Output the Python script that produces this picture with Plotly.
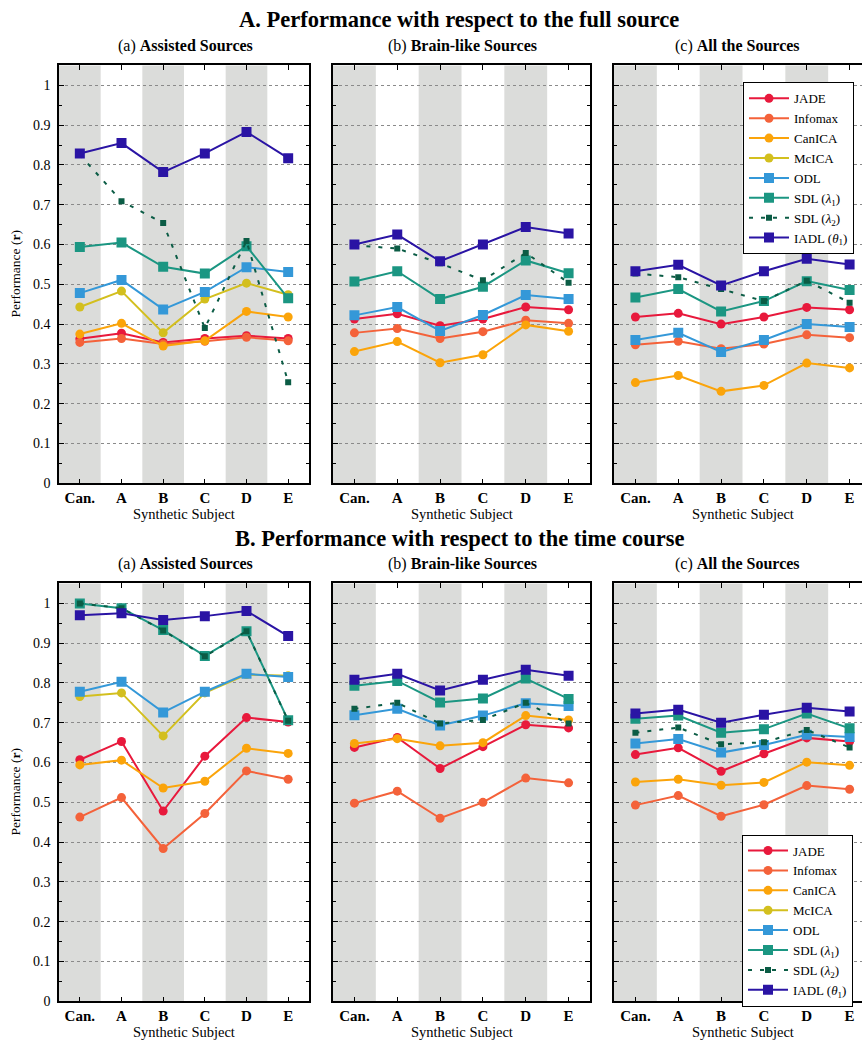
import plotly.graph_objects as go

subjects = ["Can.", "A", "B", "C", "D", "E"]

# ---- A. full source ----
jade_fa = [0.363, 0.377, 0.354, 0.364, 0.371, 0.364]
infomax_fa = [0.354, 0.364, 0.350, 0.357, 0.367, 0.358]
canica_fa = [0.375, 0.402, 0.345, 0.358, 0.432, 0.418]
mcica_fa = [0.443, 0.483, 0.378, 0.463, 0.503, 0.474]
odl_fa = [0.478, 0.511, 0.437, 0.481, 0.543, 0.531]
sdl1_fa = [0.594, 0.605, 0.544, 0.527, 0.596, 0.465]
sdl2_fa = [0.826, 0.709, 0.654, 0.390, 0.609, 0.254]
iadl_fa = [0.829, 0.855, 0.782, 0.829, 0.883, 0.817]

jade_fb = [0.413, 0.426, 0.396, 0.413, 0.443, 0.436]
infomax_fb = [0.378, 0.389, 0.364, 0.381, 0.410, 0.402]
canica_fb = [0.331, 0.356, 0.303, 0.323, 0.398, 0.382]
odl_fb = [0.422, 0.443, 0.383, 0.423, 0.473, 0.463]
sdl1_fb = [0.507, 0.533, 0.463, 0.494, 0.560, 0.528]
sdl2_fb = [0.598, 0.590, 0.553, 0.510, 0.579, 0.504]
iadl_fb = [0.600, 0.625, 0.558, 0.600, 0.644, 0.628]

jade_fc = [0.418, 0.427, 0.400, 0.418, 0.442, 0.436]
infomax_fc = [0.348, 0.357, 0.338, 0.350, 0.373, 0.366]
canica_fc = [0.253, 0.271, 0.231, 0.246, 0.302, 0.290]
odl_fc = [0.360, 0.378, 0.330, 0.360, 0.400, 0.393]
sdl1_fc = [0.467, 0.488, 0.432, 0.458, 0.508, 0.486]
sdl2_fc = [0.527, 0.518, 0.488, 0.458, 0.509, 0.454]
iadl_fc = [0.533, 0.549, 0.497, 0.533, 0.564, 0.550]

# ---- B. time course ----
jade_ta = [0.607, 0.653, 0.478, 0.616, 0.713, 0.702]
infomax_ta = [0.463, 0.512, 0.384, 0.472, 0.579, 0.558]
canica_ta = [0.594, 0.606, 0.536, 0.553, 0.636, 0.623]
mcica_ta = [0.766, 0.775, 0.667, 0.775, 0.821, 0.818]
odl_ta = [0.778, 0.803, 0.726, 0.778, 0.823, 0.815]
sdl1_ta = [1.000, 0.988, 0.933, 0.868, 0.930, 0.706]
sdl2_ta = [1.000, 0.988, 0.932, 0.867, 0.930, 0.705]
iadl_ta = [0.970, 0.975, 0.958, 0.968, 0.981, 0.918]

jade_tb = [0.638, 0.663, 0.585, 0.640, 0.695, 0.687]
infomax_tb = [0.498, 0.528, 0.460, 0.500, 0.561, 0.549]
canica_tb = [0.648, 0.660, 0.642, 0.650, 0.718, 0.707]
odl_tb = [0.719, 0.735, 0.693, 0.718, 0.749, 0.742]
sdl1_tb = [0.793, 0.805, 0.751, 0.761, 0.811, 0.760]
sdl2_tb = [0.735, 0.750, 0.698, 0.707, 0.750, 0.698]
iadl_tb = [0.808, 0.823, 0.781, 0.808, 0.833, 0.818]

jade_tc = [0.620, 0.637, 0.578, 0.622, 0.662, 0.653]
infomax_tc = [0.493, 0.517, 0.465, 0.494, 0.542, 0.533]
canica_tc = [0.551, 0.558, 0.543, 0.550, 0.601, 0.593]
odl_tc = [0.648, 0.659, 0.625, 0.644, 0.670, 0.664]
sdl1_tc = [0.710, 0.718, 0.675, 0.684, 0.723, 0.686]
sdl2_tc = [0.675, 0.688, 0.646, 0.651, 0.682, 0.638]
iadl_tc = [0.723, 0.733, 0.700, 0.720, 0.738, 0.728]

panel_titles = ["(a) <b>Assisted Sources</b>", "(b) <b>Brain-like Sources</b>", "(c) <b>All the Sources</b>"]
row_titles = ["A. Performance with respect to the full source",
              "B. Performance with respect to the time course"]
y_ticks = [0.0, 0.1, 0.2, 0.3, 0.4, 0.5, 0.6, 0.7, 0.8, 0.9, 1.0]
y_ticktext = ["0", "0.1", "0.2", "0.3", "0.4", "0.5", "0.6", "0.7", "0.8", "0.9", "1"]

panels = [
    [jade_fa, infomax_fa, canica_fa, mcica_fa, odl_fa, sdl1_fa, sdl2_fa, iadl_fa],
    [jade_fb, infomax_fb, canica_fb, None, odl_fb, sdl1_fb, sdl2_fb, iadl_fb],
    [jade_fc, infomax_fc, canica_fc, None, odl_fc, sdl1_fc, sdl2_fc, iadl_fc],
    [jade_ta, infomax_ta, canica_ta, mcica_ta, odl_ta, sdl1_ta, sdl2_ta, iadl_ta],
    [jade_tb, infomax_tb, canica_tb, None, odl_tb, sdl1_tb, sdl2_tb, iadl_tb],
    [jade_tc, infomax_tc, canica_tc, None, odl_tc, sdl1_tc, sdl2_tc, iadl_tc],
]

colors = ["#e8193c", "#f4623a", "#fba40a", "#d3bf1e", "#3498d8", "#1b9682", "#0b5c45", "#2a14a4"]
symbols = ["circle", "circle", "circle", "circle", "square", "square", "square", "square"]
legend_names = ["JADE", "Infomax", "CanICA", "McICA", "ODL",
                "SDL (<i>λ</i><sub>1</sub>)", "SDL (<i>λ</i><sub>2</sub>)", "IADL (<i>θ</i><sub>1</sub>)"]

W, H = 862, 1045
SERIF = "Liberation Serif, DejaVu Serif, serif"

# pixel geometry of panels
xpix = [(59, 309), (333, 590), (614, 862)]
xranges = [[-0.5, 5.5], [-0.5, 5.5], [-0.5, 5.5 - 9 / 42.8]]
ypix = [(66, 487), (588, 1009)]

fig = go.Figure()
xi = list(range(len(subjects)))

for p, series in enumerate(panels):
    ax = p + 1
    row = p // 3
    for m, vals in enumerate(series):
        if vals is None:
            continue
        dashed = m == 6
        fig.add_trace(go.Scatter(
            x=xi, y=vals, mode="lines+markers",
            name=legend_names[m],
            line=dict(color=colors[m], width=2, dash="4px,8px" if dashed else "solid"),
            marker=dict(symbol=symbols[m], size=6 if dashed else (10 if symbols[m] == "square" else 9),
                        color=colors[m], line=dict(width=0)),
            xaxis="x" if ax == 1 else f"x{ax}", yaxis="y" if ax == 1 else f"y{ax}",
            showlegend=(p % 3 == 0),
            legend="legend" if row == 0 else "legend2",
        ))

layout = dict(width=W, height=H, margin=dict(l=0, r=0, t=0, b=0),
              paper_bgcolor="white", plot_bgcolor="white",
              font=dict(family=SERIF, size=13, color="black"))

shapes = []
annotations = []
for p in range(6):
    row, col = p // 3, p % 3
    ax = p + 1
    xk = "xaxis" if ax == 1 else f"xaxis{ax}"
    yk = "yaxis" if ax == 1 else f"yaxis{ax}"
    xd = [xpix[col][0] / W, xpix[col][1] / W]
    yd = [1 - ypix[row][1] / H, 1 - ypix[row][0] / H]
    xa = "x" if ax == 1 else f"x{ax}"
    ya = "y" if ax == 1 else f"y{ax}"
    layout[xk] = dict(domain=xd, range=xranges[col], anchor=ya,
                      tickmode="array", tickvals=xi,
                      ticktext=[f"<b>{s}</b>" for s in subjects],
                      ticks="inside", ticklen=5, tickwidth=1, tickcolor="black",
                      showline=True, linecolor="black", linewidth=1.5, mirror="allticks",
                      showgrid=False, zeroline=False,
                      tickfont=dict(family=SERIF, size=15))
    layout[yk] = dict(domain=yd, range=[0, 1.05], anchor=xa,
                      tickmode="array", tickvals=y_ticks, ticktext=y_ticktext,
                      ticks="inside", ticklen=5, tickwidth=1, tickcolor="black",
                      minor=dict(tickvals=[i / 20 for i in range(1, 21, 2)], ticks="inside", ticklen=3,
                                 tickcolor="black", showgrid=False),
                      showline=True, linecolor="black", linewidth=1.5,
                      mirror=("allticks" if col < 2 else False),
                      showgrid=True, gridcolor="#8a8a8a", griddash="dot", gridwidth=1,
                      zeroline=False, showticklabels=(col == 0),
                      ticklabelstandoff=4,
                      tickfont=dict(family=SERIF, size=14))
    # shaded bands for alternate subjects
    for k in range(0, len(subjects), 2):
        shapes.append(dict(type="rect", xref=xa, yref=f"{ya} domain",
                           x0=k - 0.5, x1=k + 0.5, y0=0, y1=1,
                           fillcolor="#dbdcda", line=dict(width=0), layer="below"))
    cx = {0: 185, 1: 462, 2: 737}[col]
    annotations.append(dict(text=panel_titles[col], x=cx / W, y=1 - (46 + row * 522) / H,
                            xref="paper", yref="paper", showarrow=False,
                            xanchor="center", yanchor="middle",
                            font=dict(family=SERIF, size=16)))
    sx = (xpix[col][0] + xpix[col][0] + 6 * (xpix[col][1] - xpix[col][0]) / (xranges[col][1] - xranges[col][0])) / 2
    annotations.append(dict(text="Synthetic Subject", x=sx / W, y=1 - (518 + row * 522) / H,
                            xref="paper", yref="paper", showarrow=False,
                            xanchor="center", yanchor="middle",
                            font=dict(family=SERIF, size=14.5)))

for row in range(2):
    annotations.append(dict(text=f"<b>{row_titles[row]}</b>", x=459 / W, y=1 - (20 + row * 523) / H,
                            xref="paper", yref="paper", showarrow=False,
                            xanchor="center", yanchor="middle",
                            font=dict(family="Liberation Serif, serif", size=22.5)))
    annotations.append(dict(text="Performance (<b>r</b>)", x=15 / W,
                            y=1 - ((ypix[row][0] + ypix[row][1]) / 2) / H,
                            xref="paper", yref="paper", showarrow=False, textangle=-90,
                            xanchor="center", yanchor="middle",
                            font=dict(family=SERIF, size=13.5)))

layout["shapes"] = shapes
layout["annotations"] = annotations
leg_common = dict(bgcolor="white", bordercolor="black", borderwidth=1,
                  font=dict(family=SERIF, size=13), xanchor="left", yanchor="top",
                  tracegroupgap=0, itemwidth=40)
layout["legend"] = dict(x=743 / W, y=1 - 83 / H, **leg_common)
layout["legend2"] = dict(x=742 / W, y=1 - 841 / H, **leg_common)

fig.update_layout(**layout)
fig.write_html("out.html", config={"displayModeBar": False},
               post_script="document.body.style.margin='0px';document.body.style.overflow='hidden';")
